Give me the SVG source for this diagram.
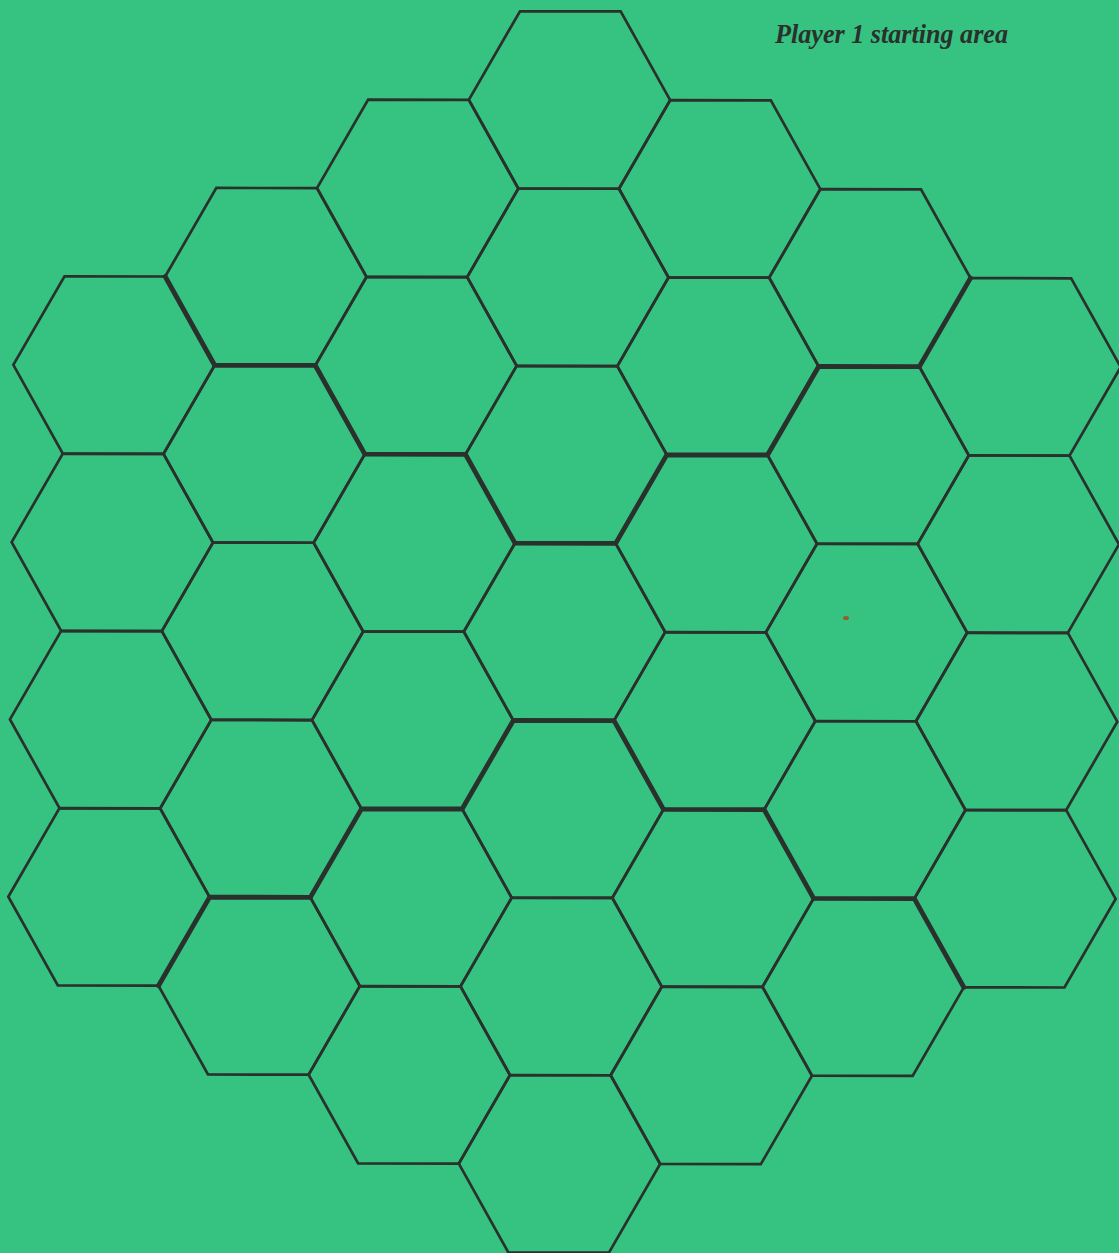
<svg xmlns="http://www.w3.org/2000/svg" xmlns:xlink="http://www.w3.org/1999/xlink" width="1119" height="1253" viewBox="0 0 1119 1253">
<style>
.bg{fill:#36c281}
.hex{fill:none;stroke:#2a302c;stroke-width:2.7;stroke-linejoin:miter}
.zone{fill:none;stroke:#2a302c;stroke-width:4.8;stroke-linejoin:miter;stroke-linecap:round}
.label{font-family:"Liberation Serif","DejaVu Serif",serif;font-style:italic;font-weight:bold;font-size:27px;fill:#2a302c}
</style>
<defs>
<polygon id="hexShape" points="-100.67,0 -50.33,-88.65 50.33,-88.65 100.67,0 50.33,88.65 -50.33,88.65"/>
</defs>
<rect class="bg" x="0" y="0" width="1119" height="1253"/>
<g id="board" transform="matrix(1 0.002 -0.00942 1 569.5 100)">
<g id="hexes">
<g id="col-m3">
<use id="hex-m3-1" href="#hexShape" class="hex" x="-453" y="265.95"/>
<use id="hex-m3-2" href="#hexShape" class="hex" x="-453" y="443.25"/>
<use id="hex-m3-3" href="#hexShape" class="hex" x="-453" y="620.55"/>
<use id="hex-m3-4" href="#hexShape" class="hex" x="-453" y="797.85"/>
</g>
<g id="col-m2">
<use id="hex-m2-1" href="#hexShape" class="hex" x="-302" y="177.3"/>
<use id="hex-m2-2" href="#hexShape" class="hex" x="-302" y="354.6"/>
<use id="hex-m2-3" href="#hexShape" class="hex" x="-302" y="531.9"/>
<use id="hex-m2-4" href="#hexShape" class="hex" x="-302" y="709.2"/>
<use id="hex-m2-5" href="#hexShape" class="hex" x="-302" y="886.5"/>
</g>
<g id="col-m1">
<use id="hex-m1-1" href="#hexShape" class="hex" x="-151" y="88.65"/>
<use id="hex-m1-2" href="#hexShape" class="hex" x="-151" y="265.95"/>
<use id="hex-m1-3" href="#hexShape" class="hex" x="-151" y="443.25"/>
<use id="hex-m1-4" href="#hexShape" class="hex" x="-151" y="620.55"/>
<use id="hex-m1-5" href="#hexShape" class="hex" x="-151" y="797.85"/>
<use id="hex-m1-6" href="#hexShape" class="hex" x="-151" y="975.15"/>
</g>
<g id="col-0">
<use id="hex-0-1" href="#hexShape" class="hex" x="0" y="0"/>
<use id="hex-0-2" href="#hexShape" class="hex" x="0" y="177.3"/>
<use id="hex-0-3" href="#hexShape" class="hex" x="0" y="354.6"/>
<use id="hex-0-4" href="#hexShape" class="hex" x="0" y="531.9"/>
<use id="hex-0-5" href="#hexShape" class="hex" x="0" y="709.2"/>
<use id="hex-0-6" href="#hexShape" class="hex" x="0" y="886.5"/>
<use id="hex-0-7" href="#hexShape" class="hex" x="0" y="1063.8"/>
</g>
<g id="col-p1">
<use id="hex-p1-1" href="#hexShape" class="hex" x="151" y="88.65"/>
<use id="hex-p1-2" href="#hexShape" class="hex" x="151" y="265.95"/>
<use id="hex-p1-3" href="#hexShape" class="hex" x="151" y="443.25"/>
<use id="hex-p1-4" href="#hexShape" class="hex" x="151" y="620.55"/>
<use id="hex-p1-5" href="#hexShape" class="hex" x="151" y="797.85"/>
<use id="hex-p1-6" href="#hexShape" class="hex" x="151" y="975.15"/>
</g>
<g id="col-p2">
<use id="hex-p2-1" href="#hexShape" class="hex" x="302" y="177.3"/>
<use id="hex-p2-2" href="#hexShape" class="hex" x="302" y="354.6"/>
<use id="hex-p2-3" href="#hexShape" class="hex" x="302" y="531.9"/>
<use id="hex-p2-4" href="#hexShape" class="hex" x="302" y="709.2"/>
<use id="hex-p2-5" href="#hexShape" class="hex" x="302" y="886.5"/>
</g>
<g id="col-p3">
<use id="hex-p3-1" href="#hexShape" class="hex" x="453" y="265.95"/>
<use id="hex-p3-2" href="#hexShape" class="hex" x="453" y="443.25"/>
<use id="hex-p3-3" href="#hexShape" class="hex" x="453" y="620.55"/>
<use id="hex-p3-4" href="#hexShape" class="hex" x="453" y="797.85"/>
</g>
</g>
<g id="connectors">
<polyline id="zone-top" class="zone" points="-402.67,177.3 -352.33,265.95 -251.67,265.95 -201.33,354.6 -100.67,354.6 -50.33,443.25 50.33,443.25 100.67,354.6 201.33,354.6 251.67,265.95 352.33,265.95 402.67,177.3"/>
<polyline id="zone-bottom" class="zone" points="-402.67,886.5 -352.33,797.85 -251.67,797.85 -201.33,709.2 -100.67,709.2 -50.33,620.55 50.33,620.55 100.67,709.2 201.33,709.2 251.67,797.85 352.33,797.85 402.67,886.5"/>
</g>
</g>
<ellipse cx="846" cy="618" rx="3" ry="2" fill="#9a5a30"/>
<text id="label-player1" class="label" x="775" y="43" textLength="233" lengthAdjust="spacingAndGlyphs">Player 1 starting area</text>
</svg>
